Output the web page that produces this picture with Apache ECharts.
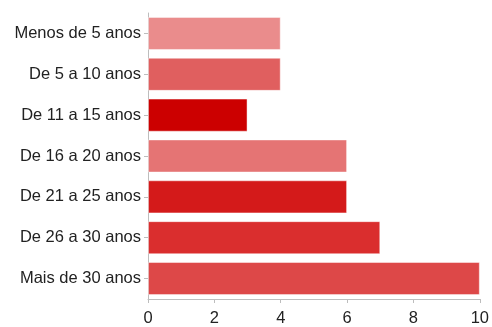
<!DOCTYPE html>
<html>
<head>
<meta charset="utf-8">
<script src="https://cdn.jsdelivr.net/npm/echarts@6/dist/echarts.min.js"></script>
<style>
  html, body { margin: 0; padding: 0; background: #fff; }
  #main { width: 492px; height: 327px; }
</style>
</head>
<body>
<div id="main"></div>
<script>
// faixas de tempo (de cima para baixo) e respostas
const categorias = ['Menos de 5 anos', 'De 5 a 10 anos', 'De 11 a 15 anos', 'De 16 a 20 anos',
  'De 21 a 25 anos', 'De 26 a 30 anos', 'Mais de 30 anos'];
const respostas = [4, 4, 3, 6, 6, 7, 10];

// cor de cada barra
const cores = ['#ea8c8c', '#e05f5f', '#cc0000', '#e57474', '#d41a1a', '#da2e2e', '#dd4848'];

const eixoCor = '#bdbdbd';

let option = {
  animation: false,
  grid: {
    left: 148,
    right: 11,
    top: 13,
    bottom: 20
  },
  xAxis: {
    type: 'value',
    min: 0,
    max: 10,
    interval: 2,
    axisLine: { show: true, lineStyle: { color: eixoCor, width: 1 } },
    axisTick: { show: true, length: 4, lineStyle: { color: eixoCor } },
    splitLine: { show: false },
    axisLabel: {
      margin: 11,
      color: '#222',
      fontSize: 16.5,
      fontFamily: 'Liberation Sans, Arial, sans-serif'
    }
  },
  yAxis: {
    type: 'category',
    inverse: true,
    data: categorias,
    axisLine: { show: true, lineStyle: { color: eixoCor, width: 1 } },
    axisTick: { show: true, length: 4, alignWithLabel: true, lineStyle: { color: eixoCor } },
    axisLabel: {
      margin: 7,
      color: '#222',
      fontSize: 16.5,
      fontFamily: 'Liberation Sans, Arial, sans-serif'
    }
  },
  series: [{
    type: 'bar',
    data: respostas.map((v, i) => ({
      value: v,
      itemStyle: { color: cores[i] }
    })),
    barCategoryGap: '19%',
    itemStyle: {
      borderColor: 'rgba(255,255,255,0.45)',
      borderWidth: 1
    }
  }]
};

let myChart = echarts.init(document.getElementById('main'), null, { renderer: 'canvas' });
myChart.setOption(option);
</script>
</body>
</html>
